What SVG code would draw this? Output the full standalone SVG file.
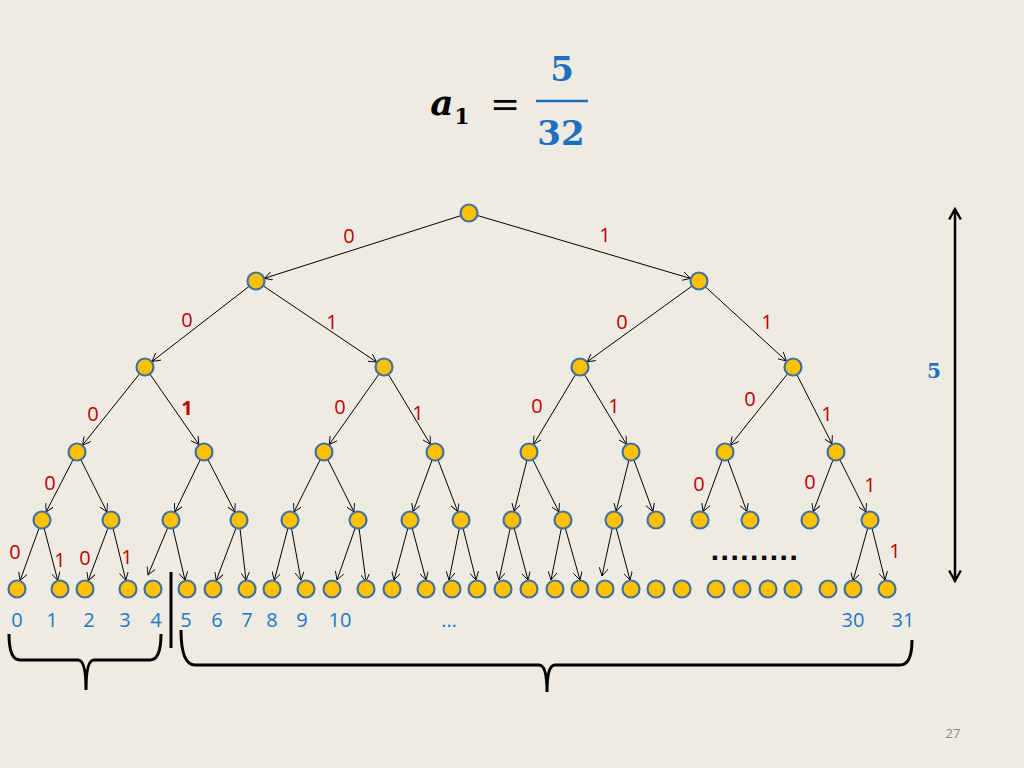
<svg xmlns="http://www.w3.org/2000/svg" width="1024" height="768" viewBox="0 0 1024 768">
<defs>
<marker id="ah" viewBox="0 0 10 10" refX="9" refY="5" markerWidth="9" markerHeight="9" markerUnits="userSpaceOnUse" orient="auto"><path d="M0,0 L9,5 L0,10" fill="none" stroke="#000" stroke-width="1"/></marker>
<marker id="bh" viewBox="0 0 12 12" refX="10" refY="6" markerWidth="14" markerHeight="14" markerUnits="userSpaceOnUse" orient="auto-start-reverse"><path d="M1,1 L10,6 L1,11" fill="none" stroke="#000" stroke-width="2"/></marker>
</defs>
<style>
.n{fill:#FFC000;stroke:#41719C;stroke-width:2.2}
.e line{stroke:#000;stroke-width:1;marker-end:url(#ah)}
.r{font-family:"Open Sans","Liberation Sans",sans-serif;font-size:20px;fill:#C00000;text-anchor:middle}
.b{font-family:"Open Sans","Liberation Sans",sans-serif;font-size:20px;fill:#1F77C8;text-anchor:middle}
.m{font-family:"DejaVu Serif","Liberation Serif",serif;font-weight:bold;fill:#1F6FBF;text-anchor:middle}
</style>
<rect width="1024" height="768" fill="#EEEBE2"/>
<g id="title">
<text x="442" y="115" font-family="DejaVu Serif,serif" font-size="36" font-weight="bold" font-style="italic" text-anchor="middle" fill="#000">a</text>
<text x="462" y="124" font-family="DejaVu Serif,serif" font-size="22" font-weight="bold" text-anchor="middle" fill="#000">1</text>
<text x="505" y="116" font-family="DejaVu Serif,serif" font-size="36" text-anchor="middle" fill="#000">=</text>
<text x="562" y="81" class="m" font-size="34">5</text>
<line x1="536" y1="101" x2="588" y2="101" stroke="#1F6FBF" stroke-width="2.5"/>
<text x="561" y="145" class="m" font-size="34">32</text>
</g>
<g id="connectors" class="e">
<line x1="469" y1="213" x2="264.5" y2="278.3"/><line x1="469" y1="213" x2="690.4" y2="278.4"/>
<line x1="256" y1="281" x2="152" y2="361.5"/><line x1="256" y1="281" x2="376.5" y2="362"/>
<line x1="699" y1="281" x2="587.3" y2="361.7"/><line x1="699" y1="281" x2="786.3" y2="360.9"/>
<line x1="145" y1="367" x2="82.6" y2="445"/><line x1="145" y1="367" x2="198.9" y2="444.6"/>
<line x1="384" y1="367" x2="329.2" y2="444.6"/><line x1="384" y1="367" x2="430.4" y2="444.3"/>
<line x1="580" y1="367" x2="533.6" y2="444.3"/><line x1="580" y1="367" x2="626.4" y2="444.3"/>
<line x1="793" y1="367" x2="730.6" y2="445"/><line x1="793" y1="367" x2="832" y2="443.9"/>
<line x1="77" y1="452" x2="46.1" y2="512"/><line x1="77" y1="452" x2="107" y2="512"/>
<line x1="204" y1="452" x2="174.9" y2="511.9"/><line x1="204" y1="452" x2="234.9" y2="512"/>
<line x1="324" y1="452" x2="294" y2="512"/><line x1="324" y1="452" x2="354" y2="512"/>
<line x1="435" y1="452" x2="413.1" y2="511.6"/><line x1="435" y1="452" x2="457.8" y2="511.6"/>
<line x1="529" y1="452" x2="514.2" y2="511.3"/><line x1="529" y1="452" x2="559" y2="512"/>
<line x1="631" y1="452" x2="616.2" y2="511.3"/><line x1="631" y1="452" x2="652.9" y2="511.6"/>
<line x1="725" y1="452" x2="703.1" y2="511.6"/><line x1="725" y1="452" x2="746.9" y2="511.6"/>
<line x1="836" y1="452" x2="813.2" y2="511.6"/><line x1="836" y1="452" x2="866" y2="512"/>
<line x1="42" y1="520" x2="20.1" y2="580.5"/><line x1="42" y1="520" x2="57.7" y2="580.3"/>
<line x1="111" y1="520" x2="88.2" y2="580.6"/><line x1="111" y1="520" x2="125.8" y2="580.3"/>
<line x1="171" y1="520" x2="148" y2="575"/><line x1="171" y1="520" x2="185" y2="580.2"/>
<line x1="239" y1="520" x2="216.2" y2="580.6"/><line x1="239" y1="520" x2="246" y2="580.1"/>
<line x1="290" y1="520" x2="274.3" y2="580.3"/><line x1="290" y1="520" x2="301" y2="580.2"/>
<line x1="358" y1="520" x2="337" y2="580"/><line x1="358" y1="520" x2="366" y2="582"/>
<line x1="410" y1="520" x2="394" y2="580"/><line x1="410" y1="520" x2="426" y2="580"/>
<line x1="461" y1="520" x2="449" y2="580"/><line x1="461" y1="520" x2="476" y2="580"/>
<line x1="512" y1="520" x2="499" y2="580"/><line x1="512" y1="520" x2="528" y2="580"/>
<line x1="563" y1="520" x2="551" y2="580"/><line x1="563" y1="520" x2="580" y2="580"/>
<line x1="614" y1="520" x2="602" y2="576"/><line x1="614" y1="520" x2="630" y2="580"/>
<line x1="870" y1="520" x2="853" y2="581"/><line x1="870" y1="520" x2="885" y2="580"/>
</g>
<g id="nodes">
<g id="n-root"><circle class="n" cx="469" cy="213" r="8.5"/></g>
<g id="n-l1"><circle class="n" cx="256" cy="281" r="8.5"/><circle class="n" cx="699" cy="281" r="8.5"/></g>
<g id="n-l2"><circle class="n" cx="145" cy="367" r="8.5"/><circle class="n" cx="384" cy="367" r="8.5"/><circle class="n" cx="580" cy="367" r="8.5"/><circle class="n" cx="793" cy="367" r="8.5"/></g>
<g id="n-l3"><circle class="n" cx="77" cy="452" r="8.5"/><circle class="n" cx="204" cy="452" r="8.5"/><circle class="n" cx="324" cy="452" r="8.5"/><circle class="n" cx="435" cy="452" r="8.5"/><circle class="n" cx="529" cy="452" r="8.5"/><circle class="n" cx="631" cy="452" r="8.5"/><circle class="n" cx="725" cy="452" r="8.5"/><circle class="n" cx="836" cy="452" r="8.5"/></g>
<g id="n-l4"><circle class="n" cx="42" cy="520" r="8.5"/><circle class="n" cx="111" cy="520" r="8.5"/><circle class="n" cx="171" cy="520" r="8.5"/><circle class="n" cx="239" cy="520" r="8.5"/><circle class="n" cx="290" cy="520" r="8.5"/><circle class="n" cx="358" cy="520" r="8.5"/><circle class="n" cx="410" cy="520" r="8.5"/><circle class="n" cx="461" cy="520" r="8.5"/><circle class="n" cx="512" cy="520" r="8.5"/><circle class="n" cx="563" cy="520" r="8.5"/><circle class="n" cx="614" cy="520" r="8.5"/><circle class="n" cx="656" cy="520" r="8.5"/><circle class="n" cx="700" cy="520" r="8.5"/><circle class="n" cx="750" cy="520" r="8.5"/><circle class="n" cx="810" cy="520" r="8.5"/><circle class="n" cx="870" cy="520" r="8.5"/></g>
<g id="n-leaves"><circle class="n" cx="17" cy="589" r="8.5"/><circle class="n" cx="60" cy="589" r="8.5"/><circle class="n" cx="85" cy="589" r="8.5"/><circle class="n" cx="128" cy="589" r="8.5"/><circle class="n" cx="153" cy="589" r="8.5"/><circle class="n" cx="187" cy="589" r="8.5"/><circle class="n" cx="213" cy="589" r="8.5"/><circle class="n" cx="247" cy="589" r="8.5"/><circle class="n" cx="272" cy="589" r="8.5"/><circle class="n" cx="306" cy="589" r="8.5"/><circle class="n" cx="332" cy="589" r="8.5"/><circle class="n" cx="366" cy="589" r="8.5"/><circle class="n" cx="392" cy="589" r="8.5"/><circle class="n" cx="426" cy="589" r="8.5"/><circle class="n" cx="452" cy="589" r="8.5"/><circle class="n" cx="477" cy="589" r="8.5"/><circle class="n" cx="503" cy="589" r="8.5"/><circle class="n" cx="529" cy="589" r="8.5"/><circle class="n" cx="555" cy="589" r="8.5"/><circle class="n" cx="580" cy="589" r="8.5"/><circle class="n" cx="605" cy="589" r="8.5"/><circle class="n" cx="631" cy="589" r="8.5"/><circle class="n" cx="656" cy="589" r="8.5"/><circle class="n" cx="682" cy="589" r="8.5"/><circle class="n" cx="716" cy="589" r="8.5"/><circle class="n" cx="742" cy="589" r="8.5"/><circle class="n" cx="768" cy="589" r="8.5"/><circle class="n" cx="793" cy="589" r="8.5"/><circle class="n" cx="828" cy="589" r="8.5"/><circle class="n" cx="853" cy="589" r="8.5"/><circle class="n" cx="887" cy="589" r="8.5"/></g>
</g>
<g id="edge-labels">
<text class="r" x="349" y="243">0</text><text class="r" x="605" y="242">1</text>
<text class="r" x="187" y="327">0</text><text class="r" x="332" y="329">1</text><text class="r" x="622" y="329">0</text><text class="r" x="767" y="329">1</text>
<text class="r" x="93" y="421">0</text><text class="r" x="187" y="415" font-weight="bold">1</text><text class="r" x="340" y="414">0</text><text class="r" x="418" y="420">1</text><text class="r" x="537" y="413">0</text><text class="r" x="614" y="413">1</text><text class="r" x="750" y="406">0</text><text class="r" x="827" y="421">1</text>
<text class="r" x="50" y="490">0</text><text class="r" x="699" y="491">0</text><text class="r" x="810" y="489">0</text><text class="r" x="870" y="492">1</text>
<text class="r" x="15" y="559">0</text><text class="r" x="60" y="567">1</text><text class="r" x="85" y="565">0</text><text class="r" x="127" y="564">1</text><text class="r" x="895" y="558">1</text>
</g>
<g id="leaf-numbers">
<text class="b" x="17" y="627">0</text><text class="b" x="52" y="627">1</text><text class="b" x="89" y="627">2</text><text class="b" x="125" y="627">3</text><text class="b" x="156" y="627">4</text><text class="b" x="186" y="627">5</text><text class="b" x="217" y="627">6</text><text class="b" x="247" y="627">7</text><text class="b" x="272" y="627">8</text><text class="b" x="302" y="627">9</text><text class="b" x="340" y="627">10</text><text class="b" x="449" y="627">…</text><text class="b" x="853" y="627">30</text><text class="b" x="903" y="627">31</text>
</g>
<text x="755" y="560" font-family="Liberation Sans,sans-serif" font-size="30" font-weight="bold" text-anchor="middle" fill="#000" letter-spacing="1.5">.........</text>
<line x1="171" y1="572" x2="171" y2="648" stroke="#000" stroke-width="3"/>
<path d="M9,634 Q9,660 20,660 H78 Q86,660 86,690 Q86,660 94,660 H150 Q161,660 161,634" fill="none" stroke="#000" stroke-width="3"/>
<path d="M181,630 Q181,665 195,665 H539 Q547,665 547,692 Q547,665 555,665 H900 Q912,665 912,640" fill="none" stroke="#000" stroke-width="3"/>
<line x1="955" y1="209" x2="955" y2="581" stroke="#000" stroke-width="2.5" marker-start="url(#bh)" marker-end="url(#bh)"/>
<text x="934" y="378" class="m" font-size="20">5</text>
<text x="953" y="738" font-family="Open Sans,Liberation Sans,sans-serif" font-size="13" fill="#888" text-anchor="middle">27</text>
</svg>
